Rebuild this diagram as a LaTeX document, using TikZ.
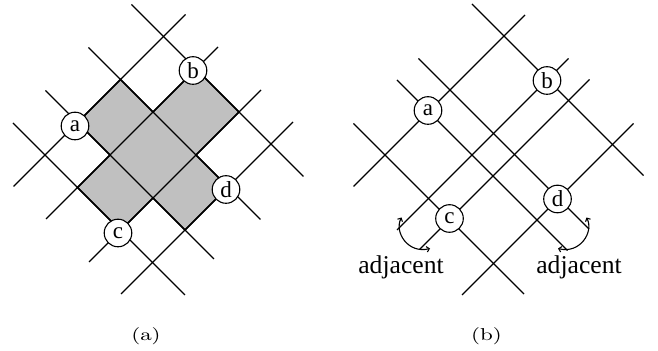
\documentclass[tikz,border=0pt]{standalone}
\usepackage{fontspec}
\newfontfamily\tms{Liberation Serif}
\usetikzlibrary{arrows.meta}
\definecolor{shade}{RGB}{192,192,192}
\newcommand{\captxt}[1]{{\fontsize{8.6}{10}\selectfont\scalebox{1.3}[1]{#1}}}
\begin{document}
\begin{tikzpicture}[x=0.5pt,y=-0.5pt,
  gridline/.style={line width=0.55pt},
  region/.style={fill=shade,draw,line width=0.75pt,line join=miter},
  lbl/.style={circle,draw,fill=white,line width=0.55pt,minimum size=13.8pt,inner sep=0pt,
    font=\tms\fontsize{11.5}{12}\selectfont},
  adj/.style={anchor=base,inner sep=0pt,font=\tms\fontsize{12.8}{14}\selectfont},
  capt/.style={inner sep=0pt},
  wrap/.style={line width=0.55pt,{Straight Barb[length=1.3pt,width=2.8pt]}-{Straight Barb[length=1.3pt,width=2.8pt]}}]
\useasboundingbox (0,0) rectangle (658,351);

% ---------- panel (a) ----------
\draw[region] (120.5,79.5) -- (153,112) -- (196,69) -- (239,112) -- (196,155) -- (228,187)
  -- (185,230) -- (153,198) -- (120.5,230.5) -- (77.5,187.5) -- (110,155) -- (77.5,122.5) -- cycle;
% "/" lines
\draw[gridline] (185.5,14.5) -- (13.5,186.5);
\draw[gridline] (218,47) -- (46,219);
\draw[gridline] (261,90) -- (89,262);
\draw[gridline] (293,122) -- (121,294);
% "\" lines
\draw[gridline] (131.5,4.5) -- (303.5,176.5);
\draw[gridline] (88.5,47.5) -- (260.5,219.5);
\draw[gridline] (45.5,90.5) -- (214,259);
\draw[gridline] (13,123) -- (185,295);

\node[lbl] (aa) at (75,126) {a};
\node[lbl] (ab) at (193,70.5) {b};
\node[lbl] (ac) at (118,233) {c};
\node[lbl] (ad) at (226,189.5) {d};

\node[capt] (capa) at (146,336) {\captxt{(a)}};

% ---------- panel (b) ----------
% "/" lines
\draw[gridline] (525,15) -- (353.5,186.5);
\draw[gridline] (568.5,58.5) -- (397,230);
\draw[gridline] (589.5,79.5) -- (419.5,249.5);
\draw[gridline] (633.5,123.5) -- (462,295);
% "\" lines
\draw[gridline] (472,4) -- (643.5,175.5);
\draw[gridline] (418.5,58.5) -- (589,229);
\draw[gridline] (397,80) -- (567.5,250.5);
\draw[gridline] (353.5,123.5) -- (524,294);

% wrap-around arcs
\draw[wrap] (401.5,217.5) .. controls (394,232) and (408,254) .. (430,248.5);
\draw[wrap] (586.5,217.5) .. controls (594,232) and (580,254) .. (558,248.5);

\node[lbl] (ba) at (428,110.5) {a};
\node[lbl] (bb) at (547,80.5) {b};
\node[lbl] (bc) at (449.5,218.5) {c};
\node[lbl] (bd) at (557.5,199) {d};

\node[adj] (adjl) at (401,273.3) {adjacent};
\node[adj] (adjr) at (579,273.3) {adjacent};

\node[capt] (capb) at (486.5,336) {\captxt{(b)}};
\end{tikzpicture}
\end{document}
